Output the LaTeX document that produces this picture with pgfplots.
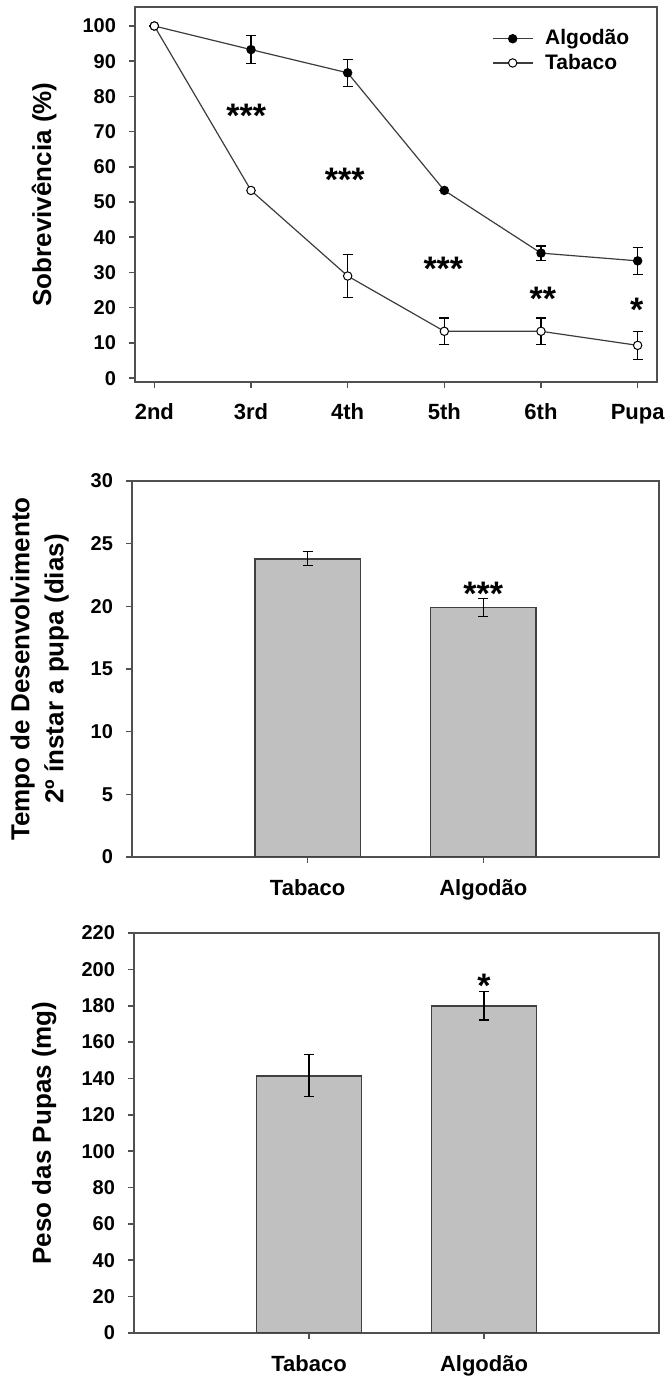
\documentclass[border=0pt]{standalone}
\usepackage{pgfplots}
\pgfplotsset{compat=1.18}
\usepackage{pgfplotstable}
\usepackage{fontspec}
\setmainfont{Liberation Sans}

\definecolor{framegray}{RGB}{80,80,80}
\definecolor{linegray}{RGB}{60,60,60}
\definecolor{barfill}{RGB}{192,192,192}
\definecolor{baredge}{RGB}{64,64,64}

\pgfplotstableread{
x y e
0 100.0 0.0
1 93.3 3.9
2 86.7 3.8
3 53.3 0.0
4 35.5 2.0
5 33.3 3.8
}\algodao
\pgfplotstableread{
x y e
0 100.0 0.0
1 53.3 0.0
2 29.0 6.0
3 13.3 3.8
4 13.3 3.8
5 9.3 4.0
}\tabaco
\pgfplotstableread{
x y e
1 23.8 0.55
2 19.9 0.70
}\tempo
\pgfplotstableread{
x y e
1 141.5 11.5
2 179.9 7.8
}\peso

\pgfplotsset{
  common/.style={
    scale only axis,
    anchor=south west,
    axis line style={draw=framegray, line width=0.8pt},
    every tick/.style={framegray, line width=0.8pt},
    tick align=outside,
    tick pos=left,
    major tick length=3pt,
    /pgf/number format/assume math mode=true,
    yticklabel style={font=\fontsize{10}{12}\selectfont\bfseries, xshift=-3pt},
    xticklabel style={font=\fontsize{11}{13}\selectfont\bfseries, yshift=-4.5pt},
    ylabel style={font=\fontsize{13}{17}\selectfont\bfseries, anchor=center, align=center},
  },
}
\tikzset{stars/.style={font=\fontsize{17}{17}\selectfont\bfseries, yshift=-3.7pt, inner sep=0pt}}

\begin{document}
\begin{tikzpicture}
\useasboundingbox (0,0) rectangle (333.5pt,688.5pt);

% Panel 1: survival
\begin{axis}[common,
  at={(67.5pt,497.5pt)}, width=261pt, height=187.5pt,
  xmin=-0.2, xmax=5.2, ymin=-1.1, ymax=105.4,
  xtick={0,1,2,3,4,5}, xticklabels={2nd,3rd,4th,5th,6th,Pupa},
  ytick={0,10,...,100},
  ylabel={Sobrevivência (\%)},
  ylabel style={at={(axis description cs:-0.174,0.5)}},
  legend style={at={(0.672,0.962)}, anchor=north west, draw=none, fill=none,
    font=\fontsize{10.5}{12}\selectfont\bfseries, row sep=-1pt,
    legend cell align=left,
    /tikz/every odd column/.append style={column sep=4pt}},
  legend image code/.code={\draw[mark repeat=2,mark phase=2,#1] plot coordinates {(0cm,0cm) (0.35cm,0cm) (0.7cm,0cm)};},
]
\addplot[linegray, line width=0.6pt, mark=*, mark size=2.1pt,
  mark options={fill=black, draw=black, line width=0.5pt},
  error bars/.cd, y dir=both, y explicit,
  error bar style={black, line width=0.6pt},
  error mark options={rotate=90, mark size=2.5pt, black, line width=0.6pt}]
  table[x=x, y=y, y error=e] {\algodao};
\addlegendentry{Algodão}
\addplot[linegray, line width=0.6pt, mark=*, mark size=2.1pt,
  mark options={fill=white, draw=black, line width=0.5pt},
  error bars/.cd, y dir=both, y explicit,
  error bar style={black, line width=0.6pt},
  error mark options={rotate=90, mark size=2.5pt, black, line width=0.6pt}]
  table[x=x, y=y, y error=e] {\tabaco};
\addlegendentry{Tabaco}
\node[stars] at (axis cs:0.95,76.5) {***};
\node[stars] at (axis cs:1.97,58.5) {***};
\node[stars] at (axis cs:2.99,33.2) {***};
\node[stars] at (axis cs:4.02,24.5) {**};
\node[stars] at (axis cs:4.99,21.4) {*};
\end{axis}

% Panel 2: development time
\begin{axis}[common,
  at={(66pt,260pt)}, width=263.5pt, height=188pt,
  xmin=0, xmax=3, ymin=0, ymax=30,
  xtick={1,2}, xticklabels={Tabaco,Algodão},
  ytick={0,5,...,30},
  ylabel={Tempo de Desenvolvimento\\2º ínstar a pupa (dias)},
  ylabel style={at={(axis description cs:-0.175,0.5)}},
]
\addplot[ybar, bar width=0.6, bar shift=0pt, fill=barfill, draw=baredge, line width=0.8pt,
  error bars/.cd, y dir=both, y explicit,
  error bar style={black, line width=0.6pt},
  error mark options={rotate=90, mark size=2.5pt, black, line width=0.6pt}]
  table[x=x, y=y, y error=e] {\tempo};
\node[stars] at (axis cs:2,21.6) {***};
\end{axis}

% Panel 3: pupal weight
\begin{axis}[common,
  at={(67pt,22pt)}, width=262.5pt, height=200pt,
  xmin=0, xmax=3, ymin=0, ymax=220,
  xtick={1,2}, xticklabels={Tabaco,Algodão},
  ytick={0,20,...,220},
  ylabel={Peso das Pupas (mg)},
  ylabel style={at={(axis description cs:-0.171,0.5)}},
]
\addplot[ybar, bar width=0.6, bar shift=0pt, fill=barfill, draw=baredge, line width=0.8pt,
  error bars/.cd, y dir=both, y explicit,
  error bar style={black, line width=0.6pt},
  error mark options={rotate=90, mark size=2.5pt, black, line width=0.6pt}]
  table[x=x, y=y, y error=e] {\peso};
\node[stars] at (axis cs:2,195) {*};
\end{axis}
\end{tikzpicture}
\end{document}
